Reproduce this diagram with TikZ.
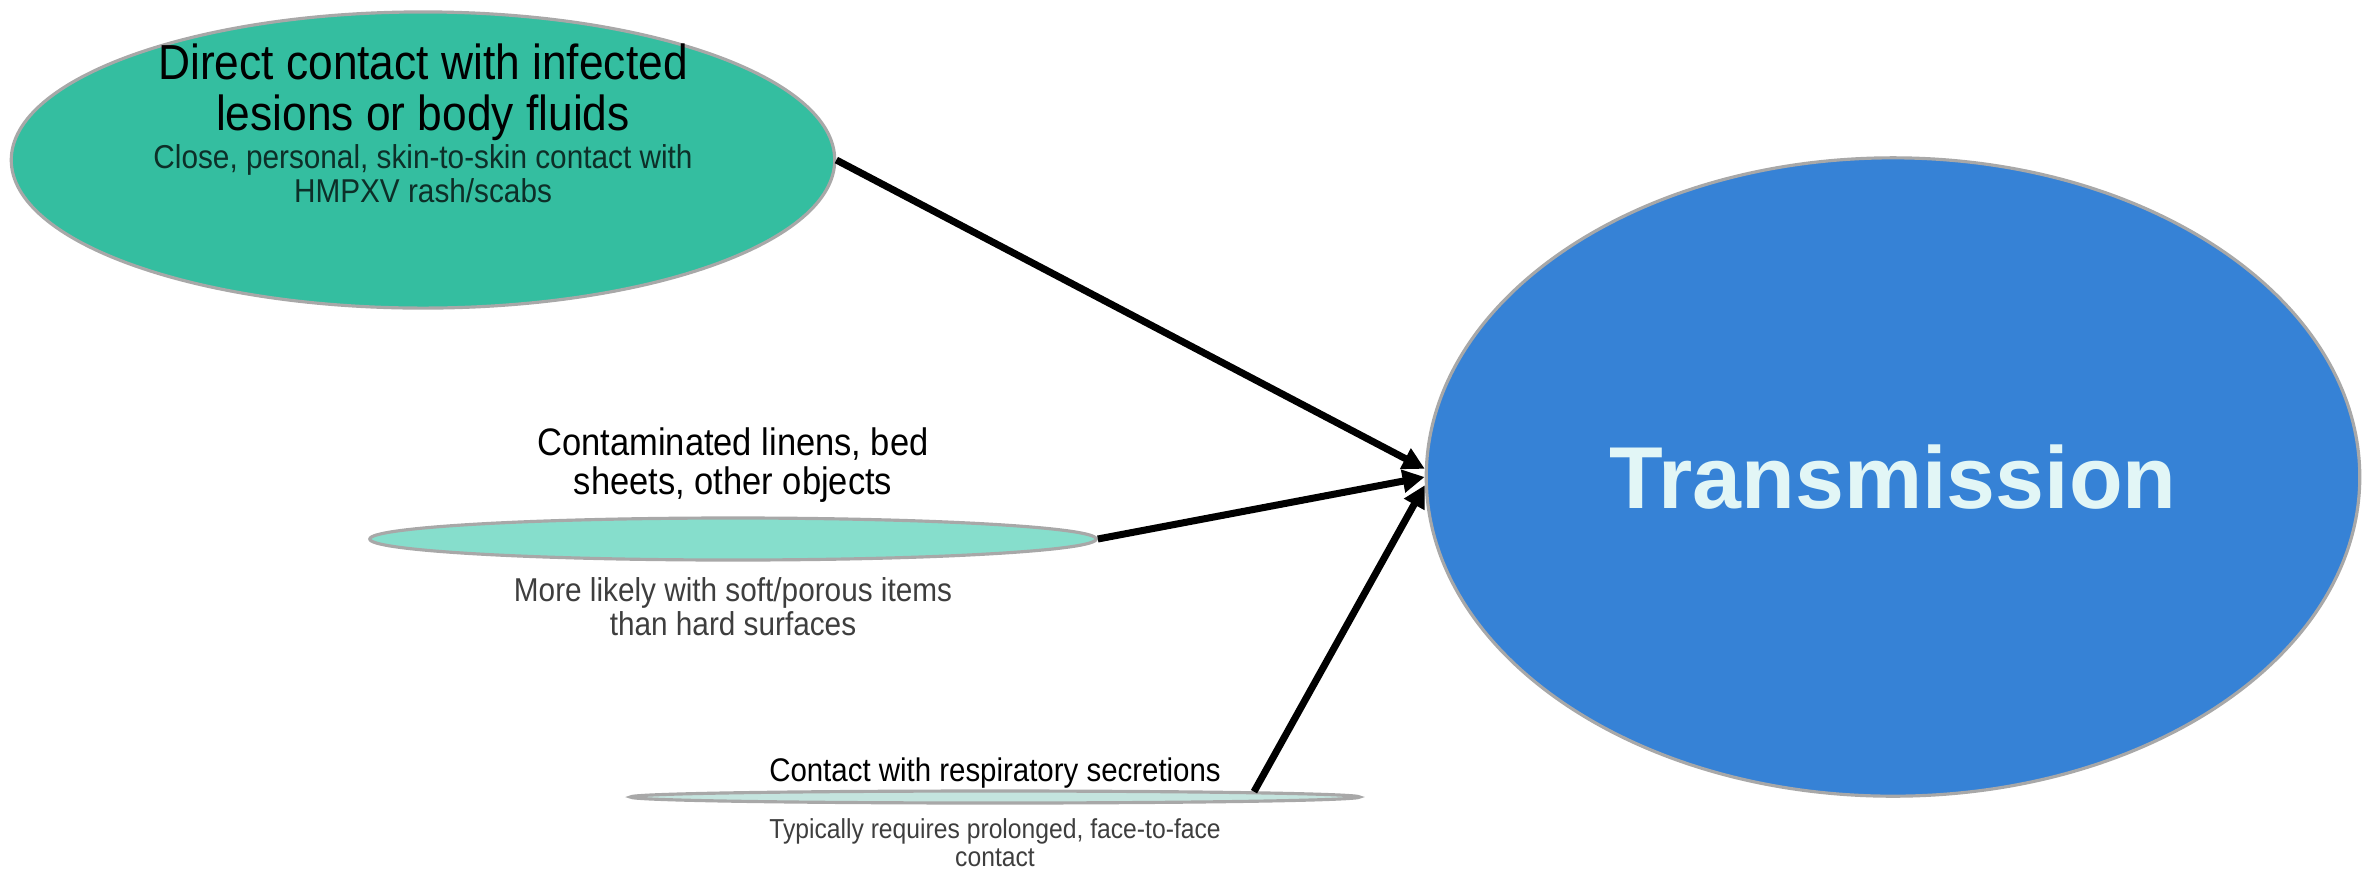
\documentclass[tikz,border=0pt]{standalone}
\usepackage{fontspec}
\setmainfont{Liberation Sans}
\newfontfamily\narrowsans{Liberation Sans}[FakeStretch=0.9]
\usetikzlibrary{positioning, shapes.geometric, arrows.meta}

\definecolor{directgreen}{RGB}{52,190,160}
\definecolor{linengreen}{RGB}{134,222,204}
\definecolor{respgreen}{RGB}{196,228,222}
\definecolor{transblue}{RGB}{54,130,214}
\definecolor{transtext}{RGB}{226,246,246}
\definecolor{rimgrey}{RGB}{168,168,168}
\definecolor{notegrey}{RGB}{62,62,62}

\begin{document}
\begin{tikzpicture}[
    x=0.01cm, y=-0.01cm,
    >={Triangle[length=2.2mm, width=2.2mm]},
    % Styles
    source/.style={ellipse, draw=rimgrey, line width=0.9pt, inner sep=0pt},
    target/.style={ellipse, draw=rimgrey, line width=0.9pt, fill=transblue, text=transtext, font=\bfseries\fontsize{25}{30}\selectfont},
    headline/.style={align=center, inner sep=0pt, text=black},
    note/.style={align=center, inner sep=0pt, text=notegrey},
    arrowline/.style={->, line width=2pt, black}
]
    \useasboundingbox (0,0) rectangle (2367,869);

    % --- Direct contact ---
    \node [source, fill=directgreen, minimum width=8.23cm, minimum height=2.96cm] (direct) at (423,160) {};
    \node [headline, font=\narrowsans\fontsize{14}{14.4}\selectfont] (direct-title) at (423,92) {Direct contact with infected\\ lesions or body fluids};
    \node [note, text=black!75!directgreen, font=\narrowsans\fontsize{9.4}{8.2}\selectfont, below=0.03cm of direct-title] (direct-note) {Close, personal, skin-to-skin contact with\\ HMPXV rash/scabs};

    % --- Contaminated objects ---
    \node [source, fill=linengreen, minimum width=7.26cm, minimum height=0.42cm] (linens) at (733,539) {};
    \node [headline, font=\narrowsans\fontsize{10.9}{11.3}\selectfont, above=0.13cm of linens] (linens-title) {Contaminated linens, bed\\ sheets, other objects};
    \node [note, font=\narrowsans\fontsize{9.4}{9.7}\selectfont, below=0.15cm of linens] (linens-note) {More likely with soft/porous items\\ than hard surfaces};

    % --- Respiratory secretions ---
    \node [source, fill=respgreen, minimum width=7.29cm, minimum height=0.12cm] (resp) at (995,797) {};
    \node [headline, font=\narrowsans\fontsize{9.3}{10}\selectfont, above=0cm of resp] (resp-title) {Contact with respiratory secretions};
    \node [note, font=\narrowsans\fontsize{7.8}{8}\selectfont, below=0.13cm of resp] (resp-note) {Typically requires prolonged, face-to-face\\ contact};

    % --- Outcome ---
    \node [target, minimum width=9.33cm, minimum height=6.38cm] (trans) at (1893,477) {Transmission};

    % --- Connections ---
    \draw [arrowline] (direct.east) -- (trans.179);
    \draw [arrowline] (linens.east) -- (trans.west);
    \draw [arrowline] (resp.north east) -- (trans.181);

\end{tikzpicture}
\end{document}
